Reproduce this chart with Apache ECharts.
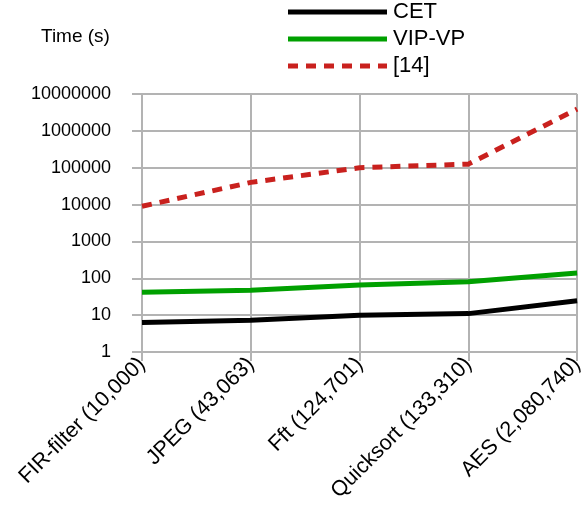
<!DOCTYPE html>
<html>
<head>
<meta charset="utf-8">
<script src="https://cdn.jsdelivr.net/npm/echarts@6/dist/echarts.min.js"></script>
<style>
  html, body { margin: 0; padding: 0; background: #fff; }
  #chart { width: 587px; height: 508px; }
</style>
</head>
<body>
<div id="chart"></div>
<script>
// benchmarks (size in brackets)
var categories = ['FIR-filter (10,000)', 'JPEG (43,063)', 'Fft (124,701)', 'Quicksort (133,310)', 'AES (2,080,740)'];
var cetTime = [6.3, 7.3, 10, 11, 24.5];
var vipvpTime = [42, 47, 66, 80, 139];
var ref14Time = [9000, 40000, 100000, 125000, 3900000];

var chart = echarts.init(document.getElementById('chart'));
var font = 'Liberation Sans';

// legend icons: solid bar and dashed bar (99 x 5)
var solidIcon = 'path://M0,0H99V5H0Z';
var dashIcon = 'path://M0,0H10V5H0Z M18,0H28V5H18Z M36,0H46V5H36Z M54,0H64V5H54Z M72,0H82V5H72Z M90,0H99V5H90Z';

var option = {
  animation: false,
  title: {
    text: 'Time (s)',
    left: 41,
    top: 27,
    padding: 0,
    textStyle: { fontFamily: font, fontSize: 19, fontWeight: 'normal', color: '#000' }
  },
  legend: {
    orient: 'vertical',
    left: 283,
    top: -4,
    itemWidth: 99,
    itemHeight: 5,
    itemGap: 5,
    textStyle: { fontFamily: font, fontSize: 22, color: '#000', padding: [0, 0, 0, 1] },
    data: [
      { name: 'CET', icon: solidIcon, itemStyle: { color: '#000000', borderWidth: 0 } },
      { name: 'VIP-VP', icon: solidIcon, itemStyle: { color: '#00a000', borderWidth: 0 } },
      { name: '[14]', icon: dashIcon, itemStyle: { color: '#c9211e', borderWidth: 0 } }
    ]
  },
  grid: {
    left: 142,
    right: 5,
    top: 94,
    bottom: 156
  },
  xAxis: {
    type: 'category',
    boundaryGap: false,
    data: categories,
    axisLine: { lineStyle: { color: '#b3b3b3', width: 2 } },
    axisTick: { show: true, length: 9, alignWithLabel: true, lineStyle: { color: '#b3b3b3', width: 2 } },
    axisLabel: {
      rotate: 45,
      margin: 9,
      interval: 0,
      fontFamily: font,
      fontSize: 21.5,
      color: '#000'
    },
    splitLine: { show: true, lineStyle: { color: '#b3b3b3', width: 2 } }
  },
  yAxis: {
    type: 'log',
    logBase: 10,
    min: 1,
    max: 10000000,
    axisLine: { show: true, lineStyle: { color: '#b3b3b3', width: 2 } },
    axisTick: { show: true, length: 10, lineStyle: { color: '#b3b3b3', width: 2 } },
    axisLabel: {
      margin: 31,
      fontFamily: font,
      fontSize: 18,
      color: '#000',
      formatter: function (v) { return String(Math.round(v)); }
    },
    splitLine: { show: true, lineStyle: { color: '#b3b3b3', width: 2 } }
  },
  series: [
    {
      name: 'CET',
      type: 'line',
      data: cetTime,
      symbol: 'none',
      lineStyle: { color: '#000000', width: 5 },
      itemStyle: { color: '#000000' }
    },
    {
      name: 'VIP-VP',
      type: 'line',
      data: vipvpTime,
      symbol: 'none',
      lineStyle: { color: '#00a000', width: 5 },
      itemStyle: { color: '#00a000' }
    },
    {
      name: '[14]',
      type: 'line',
      data: ref14Time,
      symbol: 'none',
      lineStyle: { color: '#c9211e', width: 5, type: [10, 8] },
      itemStyle: { color: '#c9211e' }
    }
  ]
};

chart.setOption(option);
</script>
</body>
</html>
